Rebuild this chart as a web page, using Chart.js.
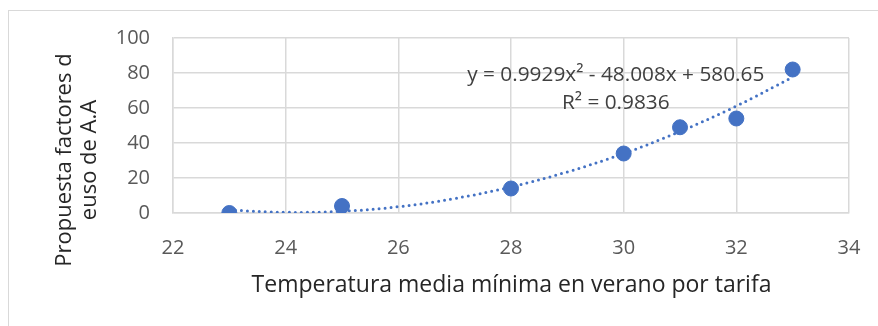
<!DOCTYPE html>
<html><head><meta charset="utf-8">
<script src="https://cdn.jsdelivr.net/npm/chart.js@4/dist/chart.umd.min.js"></script>
<style>html,body{margin:0;padding:0;background:#fff}#wrap{width:878px;height:326px}</style>
</head><body><div id="wrap"><canvas id="c" width="878" height="326"></canvas></div>
<script>
const temps = [23, 25, 28, 30, 31, 32, 33];
const factores = [0, 4, 14, 34, 49, 54, 82];
const trendX = [23, 24, 25, 26, 27, 28, 29, 30, 31, 32, 33];
const trendY = [1.7, 0.4, 1.0, 3.6, 8.3, 14.9, 23.5, 34.0, 46.6, 61.1, 77.7];
const yTicks = [0, 20, 40, 60, 80, 100];
const xTicks = [22, 24, 26, 28, 30, 32, 34];
const eqLine1 = 'y = 0.9929x² - 48.008x + 580.65';
const eqLine2 = 'R² = 0.9836';
const xTitle = 'Temperatura media mínima en verano por tarifa';
const yTitle = ['Propuesta factores d', 'euso de A.A'];

const FONT = "'Open Sans','Liberation Sans',Arial,sans-serif";
const BLUE = '#4472C4';

const deco = {
  id: 'deco',
  beforeDraw(chart) {
    const ctx = chart.ctx;
    ctx.save();
    ctx.fillStyle = '#fff';
    ctx.fillRect(0, 0, chart.width, chart.height);
    ctx.strokeStyle = '#d9d9d9';
    ctx.lineWidth = 1;
    ctx.strokeRect(8.5, 10.5, 1000, 1000);
    ctx.restore();
  },
  afterDraw(chart) {
    const ctx = chart.ctx;
    const xs = chart.scales.x, ys = chart.scales.y;
    ctx.save();
    ctx.fillStyle = '#404040';
    ctx.textAlign = 'center';
    ctx.textBaseline = 'alphabetic';
    ctx.font = '20.8px ' + FONT;
    const cx = xs.getPixelForValue(29.86);
    ctx.fillText(eqLine1, cx, ys.getPixelForValue(75.2));
    ctx.fillText(eqLine2, cx, ys.getPixelForValue(59.2));
    ctx.fillStyle = '#262626';
    ctx.font = '23px ' + FONT;
    ctx.fillText(xTitle, 511.5, 292);
    ctx.font = '22px ' + FONT;
    ctx.translate(0, 160);
    ctx.rotate(-Math.PI / 2);
    ctx.fillText(yTitle[0], 0, 71);
    ctx.fillText(yTitle[1], 0, 96);
    ctx.restore();
  }
};

new Chart(document.getElementById('c'), {
  type: 'scatter',
  data: {
    datasets: [
      {
        label: 'Tendencia',
        data: trendX.map((x, i) => ({ x: x, y: trendY[i] })),
        showLine: true,
        borderColor: BLUE,
        borderWidth: 3,
        borderDash: [0, 6],
        borderCapStyle: 'round',
        tension: 0.4,
        pointRadius: 0,
        fill: false,
        order: 2
      },
      {
        label: 'Datos',
        data: temps.map((x, i) => ({ x: x, y: factores[i] })),
        backgroundColor: BLUE,
        borderColor: BLUE,
        pointRadius: 7.5,
        pointHoverRadius: 7.5,
        order: 1
      }
    ]
  },
  options: {
    responsive: false,
    animation: false,
    devicePixelRatio: 1,
    layout: { padding: { left: 30, top: 38, right: 29, bottom: 18 } },
    plugins: { legend: { display: false }, tooltip: { enabled: false } },
    scales: {
      x: {
        type: 'linear', min: 22, max: 34,
        afterBuildTicks(s) { s.ticks = xTicks.map(v => ({ value: v })); },
        afterFit(s) { s.height = 326 - 213 - 18; s.paddingLeft = 0; s.paddingRight = 0; },
        grid: { color: '#d9d9d9', lineWidth: 1.5, drawTicks: false },
        border: { color: '#d9d9d9', width: 1.5 },
        ticks: { color: '#595959', font: { family: FONT, size: 20 }, padding: 23 },
        title: { display: false }
      },
      y: {
        type: 'linear', min: 0, max: 100,
        afterBuildTicks(s) { s.ticks = yTicks.map(v => ({ value: v })); },
        afterFit(s) { s.width = 173 - 30; s.paddingTop = 0; s.paddingBottom = 0; },
        grid: { color: '#d9d9d9', lineWidth: 1.5, drawTicks: false },
        border: { color: '#d9d9d9', width: 1.5 },
        ticks: { color: '#595959', font: { family: FONT, size: 20 }, padding: 23 },
        title: { display: false }
      }
    }
  },
  plugins: [deco]
});
</script></body></html>
